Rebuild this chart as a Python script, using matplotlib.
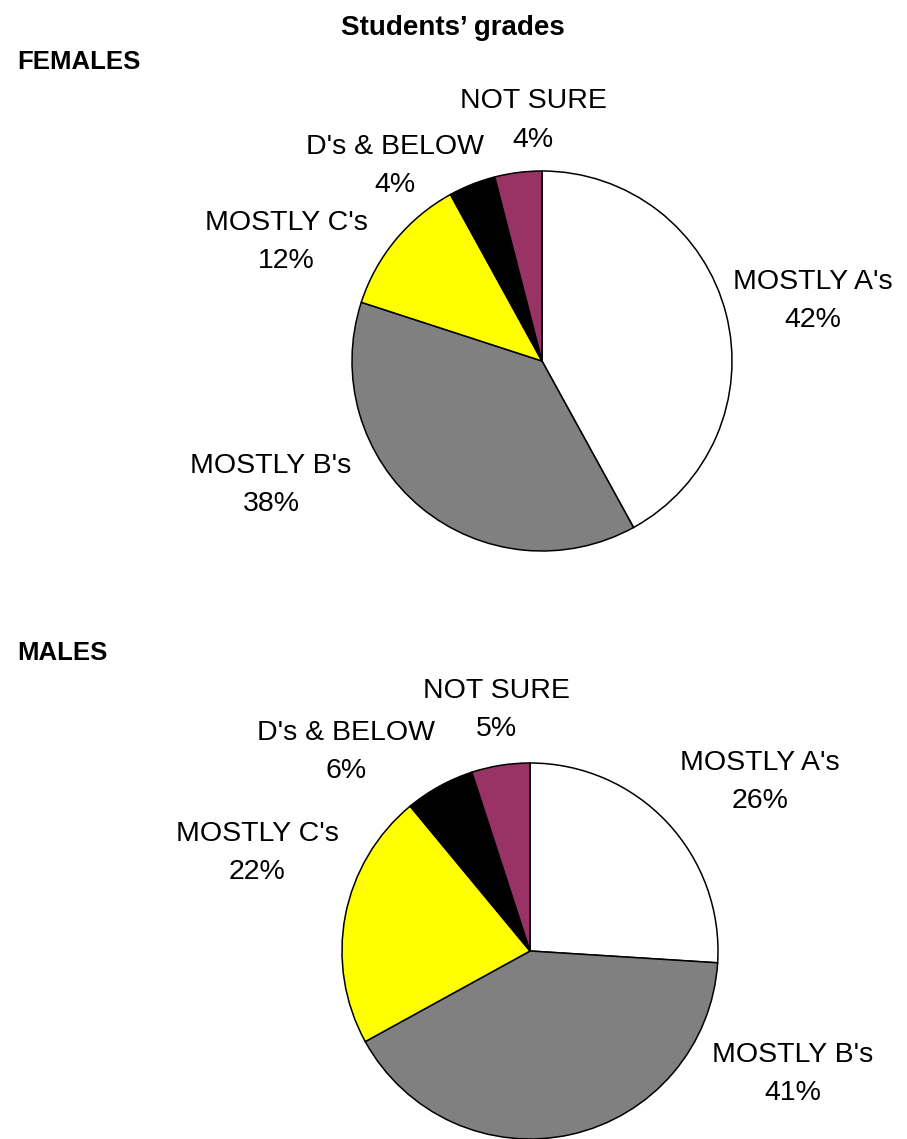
import matplotlib
matplotlib.use("Agg")
import matplotlib.pyplot as plt

plt.rcParams['font.family'] = ['Liberation Sans', 'DejaVu Sans']

categories = ["MOSTLY A's", "MOSTLY B's", "MOSTLY C's", "D's & BELOW", "NOT SURE"]
females = [42, 38, 12, 4, 4]
males = [26, 41, 22, 6, 5]
colors = ["#FFFFFF", "#808080", "#FFFF00", "#000000", "#993366"]

W, H = 907, 1139
fig = plt.figure(figsize=(W / 100, H / 100), dpi=100)
fig.patch.set_facecolor("white")


def pie_axes(cx, cy, r):
    # axes spanning exactly the pie's bounding box (pixel geometry, top-left origin)
    ax = fig.add_axes([(cx - r) / W, (H - cy - r) / H, 2 * r / W, 2 * r / H])
    ax.set_xlim(-1, 1)
    ax.set_ylim(-1, 1)
    ax.set_aspect("equal")
    ax.axis("off")
    return ax


def draw(ax, values, label_pos):
    ax.pie(values, colors=colors, startangle=90, counterclock=False, radius=1,
           wedgeprops=dict(edgecolor="black", linewidth=1.1))
    ax.set_xlim(-1, 1)
    ax.set_ylim(-1, 1)
    for name, v, (x, y) in zip(categories, values, label_pos):
        ax.text(x, y, f"{name}\n{v}%", ha="center", va="center", fontsize=20.5,
                linespacing=1.63, clip_on=False)


ax_f = pie_axes(542, 361, 190)
draw(ax_f, females, [(1.426, 0.316), (-1.426, -0.652), (-1.347, 0.626),
                     (-0.774, 1.026), (-0.047, 1.266)])

ax_m = pie_axes(530, 951, 188)
draw(ax_m, males, [(1.223, 0.899), (1.399, -0.654), (-1.452, 0.521),
                   (-0.979, 1.059), (-0.181, 1.282)])

fig.text(453 / W, 1 - 28 / H, "Students\u2019 grades", ha="center", va="center",
         fontsize=20, fontweight="bold")
fig.text(17 / W, 1 - 62 / H, "FEMALES", ha="left", va="center",
         fontsize=18.5, fontweight="bold")
fig.text(17 / W, 1 - 653 / H, "MALES", ha="left", va="center",
         fontsize=18.5, fontweight="bold")

fig.savefig("out.png", dpi=100, facecolor="white")
